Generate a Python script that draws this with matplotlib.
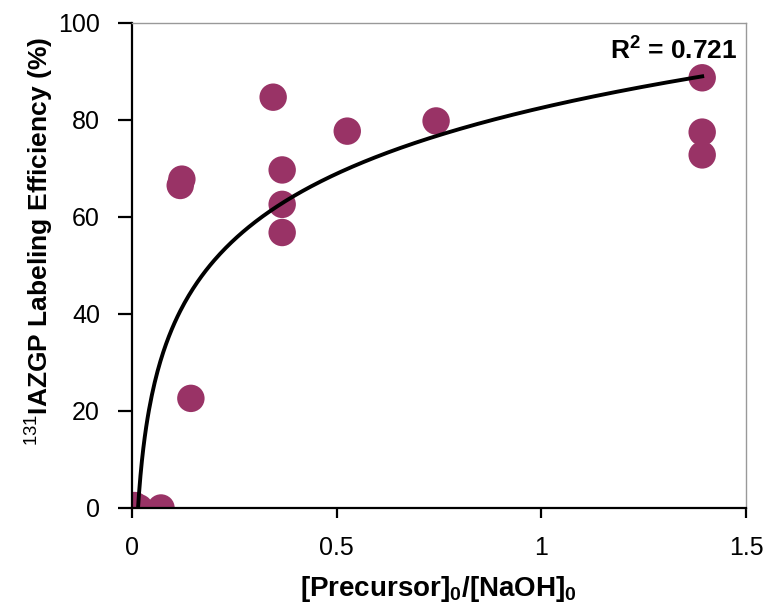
import numpy as np
import matplotlib
matplotlib.use("Agg")
import matplotlib.pyplot as plt

plt.rcParams['font.family'] = ['Liberation Sans', 'DejaVu Sans']
plt.rcParams['mathtext.fontset'] = 'custom'
plt.rcParams['mathtext.rm'] = 'Liberation Sans'
plt.rcParams['mathtext.bf'] = 'Liberation Sans:bold'
plt.rcParams['mathtext.it'] = 'Liberation Sans:italic'

# Data
ratio = [0.007, 0.018, 0.071, 0.118, 0.122, 0.144, 0.345, 0.367, 0.367, 0.367,
         0.526, 0.743, 1.393, 1.393, 1.393]
efficiency = [0.5, 0.0, 0.0, 66.5, 67.8, 22.6, 84.7, 69.7, 62.6, 56.8,
              77.7, 79.8, 88.7, 77.5, 72.8]
# logarithmic trendline parameters (y = a*ln(x) + b)
fit_a = 19.6
fit_b = 82.5
r2_text = "0.721"
xticks = [0, 0.5, 1, 1.5]
xticklabels = ['0', '0.5', '1', '1.5']
yticks = [0, 20, 40, 60, 80, 100]

x = np.array(ratio)
y = np.array(efficiency)

xf = np.linspace(x.min(), x.max(), 400)
yf = fit_a * np.log(xf) + fit_b

fig = plt.figure(figsize=(7.67, 6.08), dpi=100)
ax = fig.add_axes([0.172, 0.1645, 0.8006, 0.7977])

ax.scatter(x, y, s=390, color='#993366', edgecolors='none', zorder=2)
ax.plot(xf, yf, color='black', lw=2.8, zorder=3)

ax.set_xlim(0, 1.5)
ax.set_ylim(0, 100)
ax.set_xticks(xticks)
ax.set_xticklabels(xticklabels)
ax.set_yticks(yticks)

for s in ['top', 'right']:
    ax.spines[s].set_color('#999999')
    ax.spines[s].set_linewidth(1.0)
for s in ['left', 'bottom']:
    ax.spines[s].set_color('black')
    ax.spines[s].set_linewidth(1.6)

ax.tick_params(axis='y', direction='out', length=10, width=1.6, labelsize=18, pad=13)
ax.tick_params(axis='x', direction='out', length=7, width=1.6, labelsize=18, pad=13)
ax.tick_params(top=False, right=False)

ax.set_xlabel(r"[Precursor]$_\mathbf{0}$/[NaOH]$_\mathbf{0}$", fontsize=20,
              fontweight='bold', labelpad=10)
ax.set_ylabel(r"$^{\mathrm{131}}$IAZGP Labeling Efficiency (%)", fontsize=19,
              fontweight='bold')
ax.yaxis.set_label_coords(-0.124, 0.55)

ax.text(1.479, 92.4, r"$\mathbf{R^2}$ = " + r2_text, fontsize=19, fontweight='bold',
        ha='right', va='baseline')

fig.savefig('out.png', dpi=100)
